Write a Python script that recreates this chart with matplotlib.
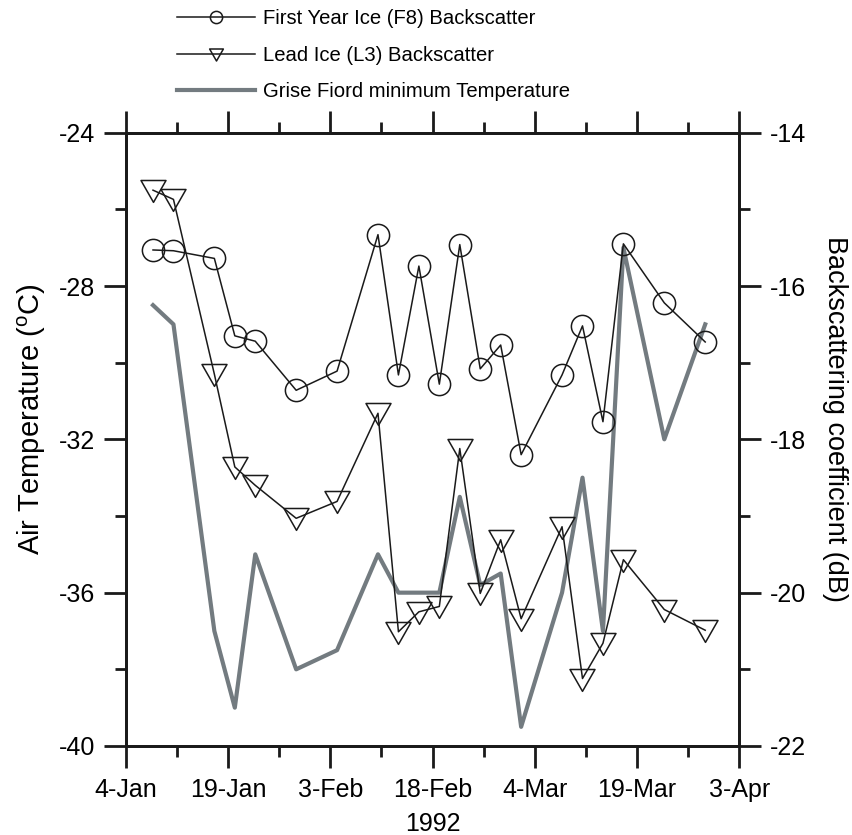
import matplotlib
matplotlib.use('Agg')
import matplotlib.pyplot as plt
import matplotlib.dates as mdates
from matplotlib.path import Path
from matplotlib.ticker import MultipleLocator, FuncFormatter
import pandas as pd

plt.rcParams['font.family'] = ['Liberation Sans', 'DejaVu Sans']
plt.rcParams['mathtext.fontset'] = 'custom'
plt.rcParams['mathtext.rm'] = 'Liberation Sans'
plt.rcParams['axes.unicode_minus'] = False

# acquisition dates (1992)
dates = ['1992-01-08', '1992-01-11', '1992-01-17', '1992-01-20', '1992-01-23',
         '1992-01-29', '1992-02-04', '1992-02-10', '1992-02-13', '1992-02-16',
         '1992-02-19', '1992-02-22', '1992-02-25', '1992-02-28', '1992-03-02',
         '1992-03-08', '1992-03-11', '1992-03-14', '1992-03-17', '1992-03-23',
         '1992-03-29']

# backscatter (dB)
f8 = [-15.53, -15.54, -15.64, -16.65, -16.72, -17.36, -17.11, -15.33, -17.16,
      -15.74, -17.28, -15.46, -17.08, -16.77, -18.20, -17.16, -16.52, -17.77,
      -15.45, -16.22, -16.73]
l3 = [-14.75, -14.87, -17.15, -18.36, -18.60, -19.03, -18.81, -17.66, -20.51,
      -20.25, -20.18, -18.12, -20.01, -19.31, -20.34, -19.14, -21.12, -20.66,
      -19.57, -20.22, -20.49]

# Grise Fiord minimum temperature (C)
tmin = [-28.5, -29.0, -37.0, -39.0, -35.0, -38.0, -37.5, -35.0, -36.0, -36.0,
        -36.0, -33.5, -35.8, -35.5, -39.5, -36.0, -33.0, -37.0, -27.0, -32.0,
        -29.0]

x = pd.to_datetime(dates)
start = pd.Timestamp('1992-01-04')
end = pd.Timestamp('1992-04-03')

# wide down-pointing triangle like the original
tri = Path([(-1, 0.8), (1, 0.8), (0, -0.95), (-1, 0.8)],
           [Path.MOVETO, Path.LINETO, Path.LINETO, Path.CLOSEPOLY])

fig = plt.figure(figsize=(8.53, 8.35), dpi=100)
ax = fig.add_axes([0.1474, 0.1066, 0.7193, 0.7345])
ax2 = ax.twinx()

ln_t, = ax.plot(x, tmin, color='#737b80', lw=3.0, zorder=2)
ln_f, = ax2.plot(x, f8, color='#1a1a1a', lw=1.1, marker='o', ms=16,
                 mfc='none', mec='#1a1a1a', mew=1.1)
ln_l, = ax2.plot(x, l3, color='#1a1a1a', lw=1.1, marker=tri, ms=18,
                 mfc='none', mec='#1a1a1a', mew=1.1)

ax.set_xlim(start, end)
ax.set_ylim(-40, -24)
ax2.set_ylim(-22, -14)

major_days = [start + pd.Timedelta(days=15 * k) for k in range(7)]
ax.set_xticks(mdates.date2num(major_days))
ax.set_xticks([mdates.date2num(start) + 7.5 + 15 * k for k in range(6)], minor=True)
ax.xaxis.set_major_formatter(FuncFormatter(
    lambda v, p: '%d-%s' % (mdates.num2date(v).day, mdates.num2date(v).strftime('%b'))))

ax.yaxis.set_major_locator(MultipleLocator(4))
ax.yaxis.set_minor_locator(MultipleLocator(2))
ax2.yaxis.set_major_locator(MultipleLocator(2))
ax2.yaxis.set_minor_locator(MultipleLocator(1))

for a in (ax, ax2):
    for s in a.spines.values():
        s.set_linewidth(2.0)
        s.set_color('#1a1a1a')

ax.tick_params(axis='x', which='both', direction='out', top=True, bottom=True,
               width=2.0, color='#1a1a1a', labelsize=18, pad=7)
ax.tick_params(axis='x', which='major', length=16)
ax.tick_params(axis='x', which='minor', length=8)
ax.tick_params(axis='y', which='both', direction='out', width=2.0,
               color='#1a1a1a', labelsize=18, pad=6)
ax.tick_params(axis='y', which='major', length=16)
ax.tick_params(axis='y', which='minor', length=8)
ax2.tick_params(axis='y', which='both', direction='out', width=2.0,
                color='#1a1a1a', labelsize=18, pad=6)
ax2.tick_params(axis='y', which='major', length=16)
ax2.tick_params(axis='y', which='minor', length=8)

ax.set_xlabel('1992', fontsize=18, labelpad=7)
ax.set_ylabel(r'Air Temperature ($^\mathrm{o}$C)', fontsize=21, labelpad=8)
ax2.set_ylabel('Backscattering coefficient (dB)', fontsize=19.5, rotation=-90,
               labelpad=30)
ax.yaxis.label.set_y(0.533)
ax2.yaxis.label.set_y(0.533)

leg = fig.legend([ln_f, ln_l, ln_t],
                 ['First Year Ice (F8) Backscatter', 'Lead Ice (L3) Backscatter',
                  'Grise Fiord minimum Temperature'],
                 loc='upper left', bbox_to_anchor=(0.2075, 0.989), frameon=False,
                 fontsize=14.6, handlelength=3.85, handletextpad=0.4,
                 labelspacing=0.87, borderpad=0, borderaxespad=0, markerscale=0.55)

fig.savefig('out.png', dpi=100)
